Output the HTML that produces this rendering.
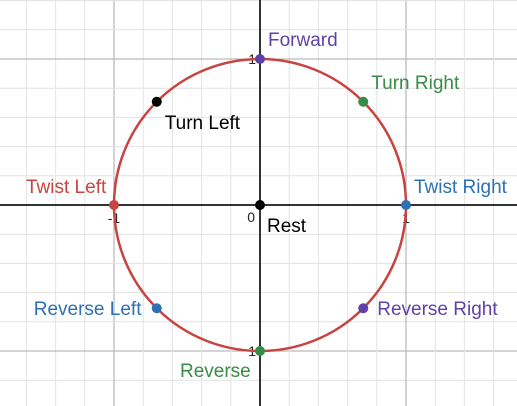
<!DOCTYPE html>
<html><head><meta charset="utf-8"><style>
html,body{margin:0;padding:0;background:#fff;width:517px;height:406px;overflow:hidden}
svg{display:block;font-family:"Liberation Sans",sans-serif}
</style></head><body>
<svg id="chart" width="517" height="406" xmlns="http://www.w3.org/2000/svg">
<g id="grid"></g>
<g id="axes"></g>
<g id="marks"></g>
</svg>
<script>
const labels=["Forward","Turn Right","Twist Right","Reverse Right","Reverse","Reverse Left","Twist Left","Turn Left","Rest"];
const xs=[0,0.7071,1,0.7071,0,-0.7071,-1,-0.7071,0];
const ys=[1,0.7071,0,-0.7071,-1,-0.7071,0,0.7071,0];
const colors=["#6042a6","#388c46","#2d70b3","#6042a6","#388c46","#2d70b3","#c74440","#000","#000"];
const lblDx=[8,8,8,14,-80,-123,-88,8,7];
const lblDy=[-13,-13,-12,7,26,7,-12,27,27];
const tickVals=[-1,1];
const ox=260,oy=205,u=146;
const X=v=>ox+v*u, Y=v=>oy-v*u;
const NS="http://www.w3.org/2000/svg";
function mk(tag,attrs,parent){const e=document.createElementNS(NS,tag);for(const k in attrs)e.setAttribute(k,attrs[k]);parent.appendChild(e);return e;}
const grid=document.getElementById('grid'),axes=document.getElementById('axes'),marks=document.getElementById('marks');
for(let i=-10;i<=10;i++){
  const v=i*0.2, major=(i%5===0);
  const lx=mk('line',{x1:X(v),x2:X(v),y1:0,y2:406,stroke:major?'#aaa':'#e3e3e3','stroke-width':1},grid);
  
  
  const ly=mk('line',{x1:0,x2:517,y1:Y(v),y2:Y(v),stroke:major?'#aaa':'#e3e3e3','stroke-width':1},grid);
  
  
}
const xa=mk('line',{x1:0,x2:517,y1:oy,y2:oy,stroke:'#333','stroke-width':2},axes);


const ya=mk('line',{x1:ox,x2:ox,y1:0,y2:406,stroke:'#333','stroke-width':2},axes);


tickVals.forEach(t=>{
  const tx=mk('text',{x:X(t),y:oy+18,'font-size':14,'text-anchor':'middle',fill:'#222'},axes);
  tx.textContent=String(t);
  
  
  const ty=mk('text',{x:ox-4,y:Y(t)+5,'font-size':14,'text-anchor':'end',fill:'#222'},axes);
  ty.textContent=String(t).replace('-','');
  
  
});
const z=mk('text',{x:ox-5,y:oy+17,'font-size':14,'text-anchor':'end',fill:'#222'},axes);
z.textContent='0';


const c=mk('circle',{cx:ox,cy:oy,r:u,fill:'none',stroke:'#c74440','stroke-width':2.5},marks);


labels.forEach((l,i)=>{
  const p=mk('circle',{cx:X(xs[i]),cy:Y(ys[i]),r:5,fill:colors[i]},marks);
  
  
  const t=mk('text',{x:X(xs[i])+lblDx[i],y:Y(ys[i])+lblDy[i],'font-size':19,fill:colors[i]},marks);
  t.textContent=l;
  
  
});
</script>
</body></html>
